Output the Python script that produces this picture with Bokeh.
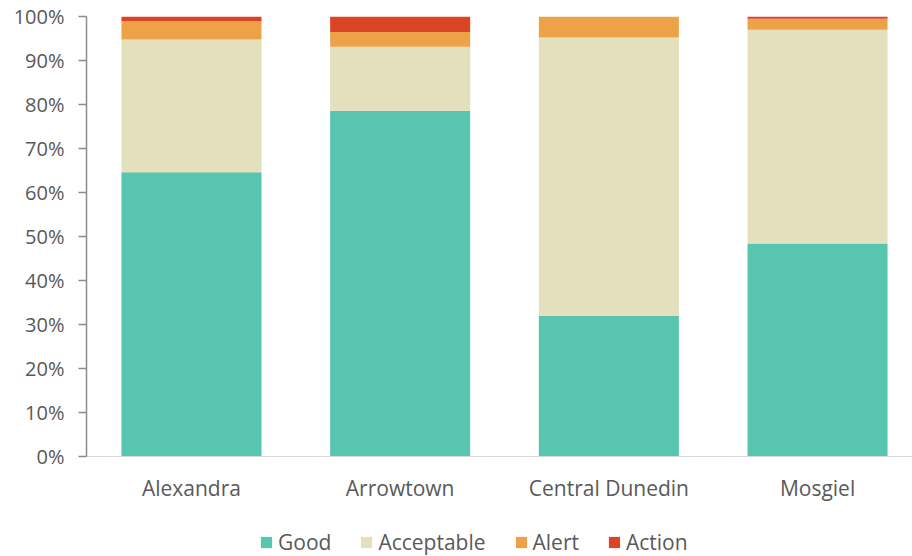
from bokeh.plotting import figure
from bokeh.layouts import column
from bokeh.models import (ColumnDataSource, Range1d, FixedTicker, PrintfTickFormatter,
                          Legend, LegendItem)
from bokeh.embed import file_html
from bokeh.resources import INLINE

# Share of samples (%) in each air-quality category per monitoring site
sites = ["Alexandra", "Arrowtown", "Central Dunedin", "Mosgiel"]
good = [64.6, 78.6, 32.0, 48.4]
acceptable = [30.2, 14.5, 63.2, 48.6]
alert = [4.1, 3.4, 4.8, 2.5]
action = [1.1, 3.5, 0.0, 0.5]
y_ticks = [0, 10, 20, 30, 40, 50, 60, 70, 80, 90, 100]

categories = ["Good", "Acceptable", "Alert", "Action"]
colors = ["#58C5AE", "#E4DFBC", "#EDA248", "#DC4426"]

FONT = "Open Sans"
TEXT = "#595959"

source = ColumnDataSource(dict(
    x=list(range(len(sites))),
    Good=good,
    Acceptable=acceptable,
    Alert=alert,
    Action=action,
))

# Main chart: stacked bars
p = figure(
    width=912, height=516,
    x_range=Range1d(-0.503, 3.455),
    y_range=Range1d(0, 100),
    output_backend="svg",
    toolbar_location=None,
    min_border_left=86, min_border_right=0,
    min_border_top=16, min_border_bottom=60,
)
p.outline_line_color = None
p.xgrid.visible = False
p.ygrid.visible = False

p.vbar_stack(categories, x="x", width=0.671, color=colors,
             line_color=None, source=source)

# y axis: percentages with outward ticks
ya = p.yaxis[0]
ya.ticker = FixedTicker(ticks=y_ticks)
ya.formatter = PrintfTickFormatter(format="%d%%")
ya.axis_line_color = "#8C8C8C"
ya.axis_line_width = 1.5
ya.major_tick_line_color = "#8C8C8C"
ya.major_tick_line_width = 1.5
ya.major_tick_out = 8
ya.major_tick_in = 0
ya.minor_tick_line_color = None
ya.major_label_standoff = 14
ya.major_label_text_font = FONT
ya.major_label_text_font_size = "20px"
ya.major_label_text_color = TEXT

# x axis: site names, no ticks
xa = p.xaxis[0]
xa.ticker = FixedTicker(ticks=list(range(len(sites))))
xa.major_label_overrides = {i: s for i, s in enumerate(sites)}
xa.axis_line_color = "#D9D9D9"
xa.axis_line_width = 1
xa.major_tick_line_color = None
xa.minor_tick_line_color = None
xa.major_tick_out = 0
xa.major_label_standoff = 17
xa.major_label_text_font = FONT
xa.major_label_text_font_size = "21px"
xa.major_label_text_color = TEXT

# Legend strip underneath the chart
leg = figure(
    width=912, height=40,
    x_range=Range1d(0, 1), y_range=Range1d(0, 1),
    x_axis_type=None, y_axis_type=None,
    output_backend="svg",
    toolbar_location=None,
    min_border=0,
)
leg.outline_line_color = None
leg.xgrid.visible = False
leg.ygrid.visible = False
swatches = leg.vbar_stack(categories, x="x", width=0.671, color=colors,
                          line_color=None, source=source)
for r in swatches:
    r.visible = False

legend = Legend(
    items=[LegendItem(label=c, renderers=[r]) for c, r in zip(categories, swatches)],
    orientation="horizontal",
    location=(173, 0),
    glyph_width=14, glyph_height=14,
    label_standoff=5, spacing=28,
    padding=0, margin=0,
    border_line_color=None,
    background_fill_alpha=0,
    label_text_font=FONT,
    label_text_font_size="21px",
    label_text_color=TEXT,
)
leg.add_layout(legend, "center")

layout = column(p, leg, spacing=0)
open("out.html", "w").write(file_html(layout, INLINE))
